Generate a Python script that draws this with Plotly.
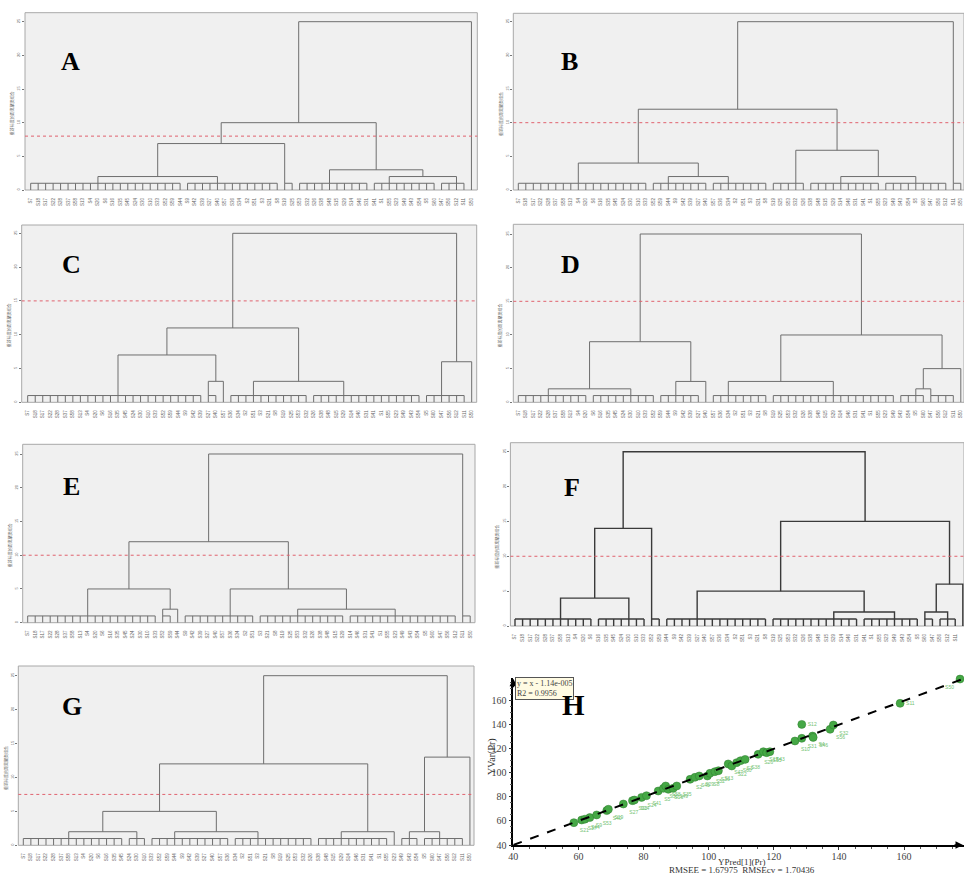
import plotly.graph_objects as go

W, H = 964, 874


def C(n, k=0):
    """group of n leaves joined at the base level, connector at offset k"""
    return ("c", n, k)


def M(h, left, right):
    """merge of two clusters at rescaled distance h"""
    return ("m", h, left, right)


# ---------------- data: dendrogram structures (rescaled distance 0-25) ----------------
TREE_A = M(25, M(10, M(6.9, M(2.0, C(21, 9), C(13, 4)), C(2, 0)),
                 M(3.0, C(10, 4), M(2.0, C(9, 2), C(4, 2)))), C(1))
TREE_B = M(25, M(12.0, M(4.0, C(18, 8), M(2.0, C(8, 2), C(8, 2))),
                 M(5.9, C(5, 3), M(2.0, C(10, 4), C(9, 4)))), C(2, 0))
TREE_C = M(25, M(11.0, M(7.0, C(24, 12), M(3.1, C(2, 0), C(1))),
                 M(3.1, C(11, 3), C(15, 4))), M(6.0, C(6, 2), C(1)))
TREE_D = M(25, M(9.0, M(2.0, C(10, 4), C(9, 5)), M(3.1, C(6, 2), C(1))),
           M(10.0, M(3.1, C(8, 2), C(17, 8)), M(5.0, M(2.0, C(4, 2), C(4, 0)), C(1))))
TREE_E = M(25, M(12.0, M(5.0, C(18, 8), M(2.0, C(2, 0), C(1))),
                 M(5.0, C(10, 6), M(2.0, C(12, 5), C(15, 6)))), C(2, 0))
TREE_F = M(25, M(14.0, M(4.0, C(11, 6), C(7, 4)), C(2, 0)),
           M(15.0, M(5.0, C(14, 4), M(2.0, C(12, 8), C(8, 4))),
             M(6.0, M(2.0, C(2, 0), C(3, 1)), C(1))))
TREE_G = M(25, M(12.0, M(5.0, M(2.0, C(14, 6), C(3, 1)), M(2.0, C(11, 3), C(11, 3))),
                 M(2.0, C(10, 3), C(1))), M(13.0, M(2.0, C(3, 1), C(6, 2)), C(1)))

TREES = {"A": TREE_A, "B": TREE_B, "C": TREE_C, "D": TREE_D,
         "E": TREE_E, "F": TREE_F, "G": TREE_G}
CUT_LEVEL = {"A": 8.0, "B": 10.0, "C": 15.0, "D": 15.0, "E": 10.0, "F": 10.0, "G": 7.5}
BASE_LEVEL = 1.0
Y_TICKS = [0, 5, 10, 15, 20, 25]

SAMPLES = ["S7", "S18", "S17", "S22", "S28", "S37", "S58", "S13", "S4", "S20",
           "S6", "S16", "S35", "S45", "S24", "S30", "S10", "S33", "S52", "S59",
           "S44", "S9", "S42", "S39", "S27", "S40", "S57", "S36", "S34", "S2",
           "S51", "S3", "S21", "S8", "S19", "S25", "S53", "S32", "S26", "S38",
           "S48", "S15", "S29", "S14", "S46", "S31", "S41", "S1", "S55", "S23",
           "S49", "S43", "S54", "S5", "S60", "S47", "S56", "S12", "S11", "S50"]

# ---------------- data: PLS prediction plot (panel H) ----------------
H_NAMES = ["S21", "S37", "S44", "S9", "S53", "S40", "S19", "S27", "S33", "S14",
           "S24", "S41", "S5", "S30", "S58", "S16", "S49", "S35", "S2", "S45",
           "S29", "S8", "S52", "S36", "S13", "S47", "S22", "S60", "S3", "S38",
           "S26", "S17", "S55", "S43", "S10", "S31", "S12", "S4", "S46", "S56",
           "S32", "S11", "S50"]
H_PRED = [58.6, 61.0, 62.0, 63.5, 65.6, 68.7, 69.2, 73.8, 76.6, 77.2,
          79.4, 80.9, 84.5, 86.1, 86.8, 87.6, 89.1, 90.2, 94.3, 95.8,
          97.1, 99.6, 100.4, 101.9, 103.0, 106.0, 107.1, 108.6, 109.8, 111.2,
          115.2, 116.8, 117.8, 118.8, 126.5, 128.6, 128.6, 131.9, 132.1, 137.3,
          138.3, 158.8, 177.2]
H_VAR = [58.6, 60.8, 61.5, 62.8, 65.0, 68.6, 69.7, 74.1, 76.9, 77.4,
         79.6, 81.0, 84.9, 87.1, 89.1, 86.3, 87.1, 89.1, 94.6, 96.3,
         97.4, 97.4, 99.6, 101.0, 101.8, 107.4, 105.7, 108.5, 110.1, 111.2,
         115.4, 117.6, 116.8, 117.6, 126.5, 128.7, 140.3, 130.6, 129.5, 136.2,
         139.8, 157.8, 178.0]
FIT_SLOPE = 1.0
FIT_INTERCEPT = -1.14e-5
H_XTICKS = [40, 60, 80, 100, 120, 140, 160]
H_YTICKS = [40, 60, 80, 100, 120, 140, 160]

# ---------------- layout (pixel geometry of each panel) ----------------
PANEL = {
    "A": dict(box=(25.0, 12.7, 477.3, 190.0), y25=21.7, leaf0=30.7, step=7.47, idx=1),
    "B": dict(box=(513.3, 13.3, 964.0, 190.0), y25=21.7, leaf0=518.3, step=7.50, idx=2),
    "C": dict(box=(21.7, 225.0, 476.7, 402.3), y25=233.3, leaf0=27.7, step=7.525, idx=3),
    "D": dict(box=(513.3, 224.3, 964.0, 402.3), y25=234.0, leaf0=518.3, step=7.50, idx=4),
    "E": dict(box=(22.7, 444.3, 475.0, 622.7), y25=454.0, leaf0=27.7, step=7.50, idx=5),
    "F": dict(box=(510.4, 442.7, 964.0, 626.0), y25=451.7, leaf0=515.0, step=7.59, idx=6),
    "G": dict(box=(18.3, 666.0, 474.0, 845.3), y25=675.7, leaf0=23.3, step=7.57, idx=7),
}
LETTER_POS = {"A": (70.5, 62), "B": (569, 62), "C": (71, 264), "D": (570, 264),
              "E": (71.7, 486), "F": (571.7, 487), "G": (71.7, 706), "H": (573.3, 705)}


def px_x(p):
    return p / W


def px_y(p):
    return 1 - p / H


def sfx(i):
    return "" if i == 1 else str(i)


def layout_tree(node, start, xs, ys, base):
    if node[0] == "c":
        _, n, k = node
        if n == 1:
            return float(start), 0.0, start + 1
        for i in range(n):
            xs += [start + i, start + i, None]
            ys += [0, base, None]
        xs += [start, start + n - 1, None]
        ys += [base, base, None]
        return float(start + k), base, start + n
    _, h, l, r = node
    xl, hl, nx = layout_tree(l, start, xs, ys, base)
    xr, hr, nx = layout_tree(r, nx, xs, ys, base)
    xs += [xl, xl, xr, xr, None]
    ys += [hl, h, h, hr, None]
    return (xl + xr) / 2, h, nx


def paper_text(text, x, y, size, family, color="#333", angle=0):
    return dict(text=text, xref="paper", yref="paper", x=px_x(x), y=px_y(y),
                xanchor="center", yanchor="middle", textangle=angle, showarrow=False,
                font=dict(size=size, color=color, family=family))


fig = go.Figure()
layout_upd = {}
shapes = []
annotations = []

for key, tree in TREES.items():
    p = PANEL[key]
    s = sfx(p["idx"])
    left, top, right, bottom = p["box"]
    unit = (bottom - p["y25"]) / 25.0
    ytop = 25 + (p["y25"] - top) / unit
    xr0 = (left - p["leaf0"]) / p["step"]
    xr1 = (right - p["leaf0"]) / p["step"]
    xs, ys = [], []
    _, _, nleaves = layout_tree(tree, 0, xs, ys, BASE_LEVEL)
    dark = key == "F"
    fig.add_trace(go.Scatter(
        x=xs, y=ys, mode="lines", xaxis=f"x{s}", yaxis=f"y{s}",
        line=dict(color="#3a3a3a" if dark else "#6e6e6e", width=1.4 if dark else 1.0),
        hoverinfo="skip", showlegend=False))
    layout_upd[f"xaxis{s}"] = dict(
        domain=[px_x(left), min(1.0, px_x(right))], anchor=f"y{s}", automargin=False,
        range=[xr0, xr1], showgrid=False, zeroline=False, showline=False,
        tickmode="array", tickvals=list(range(nleaves)), ticktext=SAMPLES[:nleaves],
        tickangle=-90, tickfont=dict(size=4.5, color="#666", family="Liberation Sans"),
        ticks="", ticklabelstandoff=6, fixedrange=True)
    layout_upd[f"yaxis{s}"] = dict(
        domain=[px_y(bottom), px_y(top)], anchor=f"x{s}", automargin=False,
        range=[0, ytop], showgrid=False, zeroline=False, showline=False,
        tickmode="array", tickvals=Y_TICKS, ticktext=[str(t) for t in Y_TICKS],
        tickangle=-90, tickfont=dict(size=4, color="#666", family="Liberation Sans"),
        ticks="outside", ticklen=2, tickcolor="#777", fixedrange=True)
    shapes.append(dict(type="rect", xref=f"x{s} domain", yref=f"y{s} domain",
                       x0=0, x1=1, y0=0, y1=1, layer="below",
                       fillcolor="#f0f0f0", line=dict(color="#a8a8a8", width=1)))
    shapes.append(dict(type="line", xref=f"x{s} domain", yref=f"y{s}",
                       x0=0, x1=1, y0=CUT_LEVEL[key], y1=CUT_LEVEL[key],
                       line=dict(color="#e0626e", width=1, dash="dot")))
    annotations.append(paper_text("重新标度的距离聚类组合", left - 13, (top + bottom) / 2 + 12,
                                  4, "Noto Sans CJK SC", "#666", -90))

# ---------------- panel H ----------------
h_left, h_top, h_right, h_bottom = 513.3, 678.3, 964.0, 845.0
x_hi = 40 + (h_right - h_left) / 3.256
y_hi = 40 + (h_bottom - h_top) / 1.2025

text_pos = ["bottom right"] * len(H_NAMES)
for j, nm in enumerate(H_NAMES):
    if nm in ("S12", "S11"):
        text_pos[j] = "middle right"
    elif nm == "S50":
        text_pos[j] = "bottom left"

fig.add_trace(go.Scatter(
    x=H_PRED, y=H_VAR, mode="markers+text", text=H_NAMES, textposition=text_pos,
    textfont=dict(size=5, color="#74c374", family="Liberation Sans"),
    marker=dict(size=8, color="#45a845", line=dict(color="#2f7d2f", width=0.5)),
    xaxis="x8", yaxis="y8", showlegend=False, cliponaxis=False))

fit_x = [40, x_hi]
fit_y = [FIT_SLOPE * v + FIT_INTERCEPT for v in fit_x]
fig.add_trace(go.Scatter(
    x=fit_x, y=fit_y, mode="lines", line=dict(color="black", width=2, dash="dash"),
    xaxis="x8", yaxis="y8", hoverinfo="skip", showlegend=False))

serif = "Liberation Serif"
layout_upd["xaxis8"] = dict(
    domain=[px_x(h_left), 1.0], anchor="y8", range=[40, x_hi], automargin=False,
    showgrid=False, zeroline=False, showline=True, linecolor="black", linewidth=1.5,
    tickmode="array", tickvals=H_XTICKS, ticks="outside", ticklen=3, tickcolor="#333",
    minor=dict(ticks="outside", dtick=5, ticklen=2, tickcolor="#555"),
    ticklabelstandoff=-2,
    tickfont=dict(size=10, color="#444", family=serif), fixedrange=True)
layout_upd["yaxis8"] = dict(
    domain=[px_y(h_bottom), px_y(h_top)], anchor="x8", range=[40, y_hi], automargin=False,
    showgrid=False, zeroline=False, showline=True, linecolor="black", linewidth=1.5,
    tickmode="array", tickvals=H_YTICKS, ticks="outside", ticklen=3, tickcolor="#333",
    minor=dict(ticks="outside", dtick=5, ticklen=2, tickcolor="#555"),
    tickfont=dict(size=10, color="#444", family=serif), fixedrange=True)

annotations.append(dict(x=x_hi - 0.3, y=40, xref="x8", yref="y8", ax=-10, ay=0,
                        showarrow=True, arrowhead=2, arrowsize=1, arrowwidth=1.5,
                        arrowcolor="black", text=""))
annotations.append(dict(x=40, y=y_hi - 0.3, xref="x8", yref="y8", ax=0, ay=10,
                        showarrow=True, arrowhead=2, arrowsize=1, arrowwidth=1.5,
                        arrowcolor="black", text=""))
annotations.append(dict(text="y = x - 1.14e-005<br>R2 = 0.9956", xref="paper", yref="paper",
                        x=px_x(514.5), y=px_y(677.0), xanchor="left", yanchor="top",
                        align="left", showarrow=False, bgcolor="#fffbe3",
                        bordercolor="#555", borderwidth=1, borderpad=1,
                        font=dict(size=8, color="#444", family=serif)))
annotations.append(paper_text("YPred[1](Pr)", 741.7, 862.0, 9, serif))
annotations.append(paper_text("RMSEE = 1.67975  RMSEcv = 1.70436", 741.7, 869.5, 9, serif))
annotations.append(paper_text("YVar(Pr)", 492, 756, 10, serif, angle=-90))

for key, (lx, ly) in LETTER_POS.items():
    annotations.append(paper_text(f"<b>{key}</b>", lx, ly, 29 if key == "H" else 26,
                                  serif, "black"))

fig.update_layout(
    width=W, height=H, autosize=False,
    margin=dict(l=0, r=0, t=0, b=0, autoexpand=False),
    paper_bgcolor="white", plot_bgcolor="white",
    shapes=shapes, annotations=annotations, showlegend=False,
    **layout_upd)

fig.write_html("out.html", config={"displayModeBar": False},
               post_script="document.body.style.margin='0';"
                           "document.body.style.padding='0';"
                           "document.body.style.overflow='hidden';")
